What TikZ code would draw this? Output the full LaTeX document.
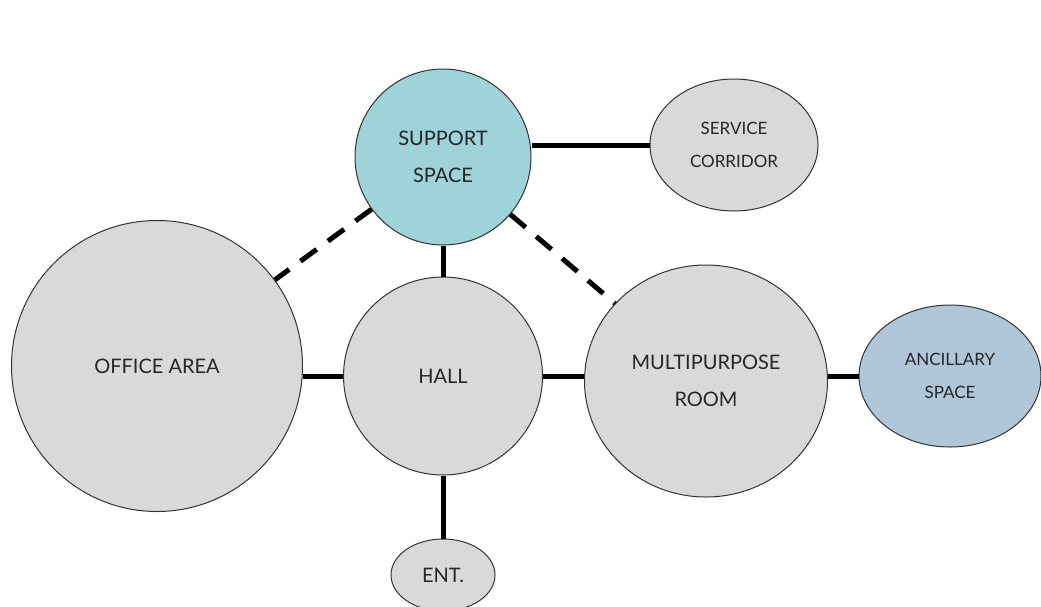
\documentclass[tikz,border=0pt]{standalone}
\usepackage{fontspec}
\setmainfont{Lato}
\usetikzlibrary{shapes.geometric}
\definecolor{roomgray}{HTML}{D9D9D9}
\definecolor{supportteal}{HTML}{9DD3D9}
\definecolor{ancblue}{HTML}{B0C7D9}
\definecolor{edgegray}{HTML}{333333}
\begin{document}
\begin{tikzpicture}[x=1pt,y=-1pt,
  room/.style={ellipse, draw=edgegray, line width=1pt, fill=roomgray, inner sep=0pt, align=center, text=black!85},
  big/.style={font=\fontsize{20}{37}\selectfont},
  small/.style={font=\fontsize{17}{33}\selectfont},
  link/.style={line width=5pt},
  weak/.style={line width=5pt, dash pattern=on 20pt off 14pt}]
\useasboundingbox (0,0) rectangle (1041,606);
\node[room, big, fill=supportteal, minimum width=176pt, minimum height=176pt] (sup) at (443,157) {SUPPORT\\SPACE};
\node[room, small, minimum width=168pt, minimum height=132pt] (svc) at (734,145) {SERVICE\\CORRIDOR};
\node[room, big, minimum width=291pt, minimum height=291pt] (off) at (157,366) {OFFICE AREA};
\node[room, big, minimum width=199pt, minimum height=198pt] (hall) at (443,376) {HALL};
\node[room, big, minimum width=243pt, minimum height=232pt] (mp) at (706,381) {MULTIPURPOSE\\ROOM};
\node[room, small, fill=ancblue, minimum width=182pt, minimum height=142pt] (anc) at (950,376) {ANCILLARY\\SPACE};
\node[room, big, minimum width=104pt, minimum height=72pt] (ent) at (443,575) {ENT.};
\draw[link] (svc.west) -- (svc.west -| sup.east);
\draw[link] (sup.south) -- (hall.north);
\draw[link] (hall.west) -- (hall.west -| off.east);
\draw[link] (hall.east) -- (hall.east -| mp.west);
\draw[link] (anc.west) -- (anc.west -| mp.east);
\draw[link] (hall.south) -- (ent.north);
\draw[weak] (sup) -- (off);
\draw[weak] (sup) -- (mp);
\end{tikzpicture}
\end{document}
